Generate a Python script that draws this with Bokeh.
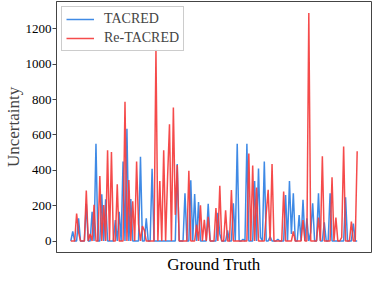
from bokeh.plotting import figure
from bokeh.models import Range1d, Legend, LegendItem, FixedTicker, Title
from bokeh.embed import file_html
from bokeh.resources import INLINE

tacred = [
    0, 55, 0, 0, 128, 0, 0, 0, 210, 0,
    0, 165, 0, 550, 0, 0, 265, 0, 236, 0,
    0, 0, 0, 118, 0, 165, 0, 450, 0, 635,
    0, 238, 0, 0, 0, 0, 477, 0, 0, 128,
    0, 0, 408, 0, 0, 0, 0, 0, 0, 0,
    0, 0, 0, 0, 0, 435, 0, 0, 0, 270,
    0, 0, 343, 0, 266, 0, 220, 0, 0, 0,
    0, 210, 0, 0, 0, 0, 160, 40, 0, 0,
    0, 60, 0, 0, 214, 0, 550, 0, 0, 10,
    0, 550, 0, 0, 0, 340, 0, 410, 20, 0,
    450, 0, 0, 25, 0, 0, 0, 10, 0, 0,
    0, 260, 0, 340, 40, 270, 0, 0, 147, 0,
    233, 0, 128, 0, 50, 214, 0, 0, 270, 0,
    0, 105, 0, 0, 270, 0, 0, 0, 0, 0,
    0, 0, 248, 0, 0, 0, 98, 0, 0,
]
retacred = [
    0, 0, 0, 155, 50, 0, 0, 0, 285, 0,
    40, 0, 205, 0, 0, 367, 0, 203, 0, 513,
    0, 504, 0, 0, 321, 0, 0, 0, 788, 0,
    345, 0, 225, 0, 450, 95, 0, 85, 60, 0,
    0, 0, 0, 0, 1082, 0, 340, 0, 513, 0,
    358, 660, 0, 755, 148, 430, 0, 0, 0, 0,
    0, 398, 0, 0, 0, 92, 0, 202, 0, 120,
    0, 137, 0, 0, 0, 187, 0, 312, 0, 0,
    174, 0, 0, 288, 0, 0, 0, 0, 0, 0,
    0, 0, 495, 0, 427, 0, 303, 0, 0, 0,
    0, 156, 290, 0, 435, 0, 0, 0, 0, 0,
    280, 0, 0, 0, 0, 55, 0, 0, 0, 0,
    118, 0, 0, 1290, 0, 0, 0, 0, 132, 0,
    480, 0, 0, 0, 0, 360, 0, 132, 0, 0,
    20, 535, 0, 0, 0, 110, 0, 0, 508,
]
xs = list(range(len(tacred)))
y_ticks = [0, 200, 400, 600, 800, 1000, 1200]
series_names = ["TACRED", "Re-TACRED"]
x_label = "Ground Truth"
y_label = "Uncertainty"

SERIF = "'Liberation Serif', 'Times New Roman', serif"
n = len(xs) - 1
pad = n * 0.05

p = figure(width=374, height=273, output_backend="svg", toolbar_location=None,
           x_range=Range1d(-pad, n + pad), y_range=Range1d(-65, 1355),
           min_border_left=30, min_border_right=3, min_border_top=1,
           min_border_bottom=0, x_axis_location=None)
p.background_fill_color = "white"
p.border_fill_color = "white"
p.outline_line_color = "#444444"
p.outline_line_width = 1
p.xgrid.visible = False
p.ygrid.visible = False

rb = p.line(xs, tacred, line_color="#3584e4", line_width=1.5, line_alpha=0.95)
rr = p.line(xs, retacred, line_color="#f43c3c", line_width=1.5, line_alpha=0.92)

xt = Title(text=x_label, align="center", text_font=SERIF, text_font_size="17px",
           text_font_style="normal", text_color="black", standoff=0, offset=0)
p.add_layout(xt, "below")

p.yaxis.ticker = FixedTicker(ticks=y_ticks)
p.yaxis.axis_label = y_label
p.yaxis.axis_label_text_font = SERIF
p.yaxis.axis_label_text_font_style = "normal"
p.yaxis.axis_label_text_font_size = "17px"
p.yaxis.axis_label_standoff = 0
p.yaxis.major_label_text_font = SERIF
p.yaxis.major_label_text_font_size = "13px"
p.yaxis.major_label_text_color = "black"
p.yaxis.major_label_standoff = 1
p.yaxis.axis_line_color = "#444444"
p.yaxis.major_tick_line_color = "#444444"
p.yaxis.major_tick_out = 4
p.yaxis.major_tick_in = 0
p.yaxis.minor_tick_line_color = None

legend = Legend(items=[LegendItem(label=series_names[0], renderers=[rb]),
                       LegendItem(label=series_names[1], renderers=[rr])],
                location="top_left")
legend.label_text_font = SERIF
legend.label_text_font_size = "14px"
legend.label_height = 16
legend.glyph_width = 28
legend.glyph_height = 16
legend.label_standoff = 10
legend.spacing = 3
legend.padding = 4
legend.margin = 5
legend.border_line_color = "#cccccc"
legend.border_line_alpha = 1
legend.background_fill_alpha = 0.85
p.add_layout(legend)

open("out.html", "w").write(file_html(p, INLINE))
